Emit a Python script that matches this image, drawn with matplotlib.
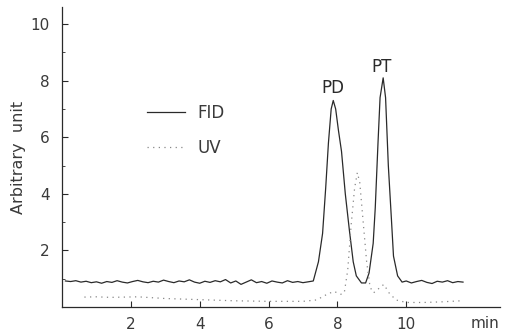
import matplotlib
matplotlib.use("Agg")
import matplotlib.pyplot as plt
from matplotlib.ticker import MultipleLocator

# ---- data ----
fid_time = [0.10, 0.25, 0.40, 0.55, 0.70, 0.85, 1.00, 1.15, 1.30, 1.45, 1.60, 1.75, 1.90,
            2.05, 2.20, 2.35, 2.50, 2.65, 2.80, 2.95, 3.10, 3.25, 3.40, 3.55, 3.70, 3.85,
            4.00, 4.15, 4.30, 4.45, 4.60, 4.75, 4.90, 5.05, 5.20, 5.35, 5.50, 5.65, 5.80,
            5.95, 6.10, 6.25, 6.40, 6.55, 6.70, 6.85, 7.00, 7.15, 7.30,
            7.45, 7.57, 7.66, 7.74, 7.82, 7.88, 7.95, 8.03, 8.12, 8.23, 8.35, 8.46, 8.55,
            8.70, 8.82, 8.92, 9.04, 9.10, 9.18, 9.24, 9.33, 9.40, 9.48, 9.57, 9.63, 9.75,
            9.88, 10.00, 10.15, 10.30, 10.45, 10.60, 10.75, 10.90, 11.05, 11.20, 11.35,
            11.50, 11.65]
fid_signal = [0.92, 0.90, 0.93, 0.88, 0.91, 0.86, 0.89, 0.84, 0.90, 0.87, 0.93, 0.88, 0.85,
              0.90, 0.94, 0.89, 0.86, 0.91, 0.88, 0.95, 0.90, 0.86, 0.92, 0.89, 0.96, 0.88,
              0.84, 0.91, 0.87, 0.93, 0.89, 0.97, 0.85, 0.92, 0.80, 0.88, 0.96, 0.86, 0.90,
              0.84, 0.92, 0.88, 0.85, 0.93, 0.87, 0.90, 0.86, 0.89, 0.92,
              1.60, 2.60, 4.20, 5.80, 7.00, 7.30, 7.00, 6.25, 5.50, 4.00, 2.70, 1.60, 1.10,
              0.85, 0.85, 1.20, 2.25, 3.50, 5.80, 7.40, 8.10, 7.40, 5.00, 3.10, 1.80, 1.10,
              0.88, 0.92, 0.85, 0.90, 0.94, 0.87, 0.83, 0.91, 0.88, 0.93, 0.86,
              0.90, 0.88]

uv_time = [0.65, 1.00, 1.40, 1.80, 2.20, 2.60, 3.00, 4.00, 5.00, 6.00, 7.00, 7.40, 7.70,
           7.90, 8.10, 8.20, 8.30, 8.40, 8.50, 8.58, 8.65, 8.75, 8.85, 8.95, 9.05, 9.20,
           9.35, 9.50, 9.70, 10.00, 10.50, 11.00, 11.60]
uv_signal = [0.35, 0.36, 0.34, 0.35, 0.36, 0.33, 0.30, 0.26, 0.22, 0.20, 0.20, 0.25, 0.45,
             0.55, 0.45, 0.50, 1.30, 2.90, 4.20, 4.75, 4.40, 3.00, 1.60, 0.70, 0.50, 0.65,
             0.80, 0.50, 0.25, 0.16, 0.16, 0.18, 0.22]

peak_labels = ["PD", "PT"]
peak_label_x = [7.88, 9.28]
peak_label_y = [7.75, 8.5]

x_ticks = [2, 4, 6, 8, 10]
y_ticks = [2, 4, 6, 8, 10]

# ---- figure ----
plt.rcParams['font.family'] = ['DejaVu Sans']
fig = plt.figure(figsize=(5.05, 3.31), dpi=100)
ax = fig.add_axes([0.1228, 0.0725, 0.867, 0.906])

ink = '#2a2a2a'
txt = '#3a3a3a'
ax.plot(fid_time, fid_signal, color=ink, lw=0.9, label='FID')
ax.plot(uv_time, uv_signal, color='#888888', lw=0.9, linestyle=(0, (1, 3.5)), label='UV')

for lab, lx, ly in zip(peak_labels, peak_label_x, peak_label_y):
    ax.text(lx, ly, lab, ha='center', va='center', fontsize=12, color=ink)

ax.set_xlim(0, 12.72)
ax.set_ylim(0, 10.6)
ax.set_xticks(x_ticks)
ax.set_yticks(y_ticks)
ax.yaxis.set_minor_locator(MultipleLocator(1))
ax.tick_params(which='major', direction='in', length=4, width=0.8, colors=ink,
               labelsize=11, labelcolor=txt)
ax.tick_params(axis='y', which='major', pad=9)
ax.tick_params(axis='x', which='major', pad=7)
ax.tick_params(which='minor', direction='in', length=2, width=0.6, colors=ink)

for s in ['top', 'right']:
    ax.spines[s].set_visible(False)
for s in ['left', 'bottom']:
    ax.spines[s].set_color(ink)
    ax.spines[s].set_linewidth(0.9)

ax.set_ylabel('Arbitrary  unit', fontsize=11.5, color=txt, labelpad=3)
ax.text(1.0, -0.055, 'min', transform=ax.transAxes, ha='right', va='center',
        fontsize=11, color=txt)

leg = ax.legend(loc='upper left', bbox_to_anchor=(0.178, 0.70), frameon=False,
                fontsize=12, handlelength=2.3, handletextpad=0.75, labelspacing=1.05,
                borderaxespad=0)
for t in leg.get_texts():
    t.set_color(txt)

fig.savefig('out.png', dpi=100)
